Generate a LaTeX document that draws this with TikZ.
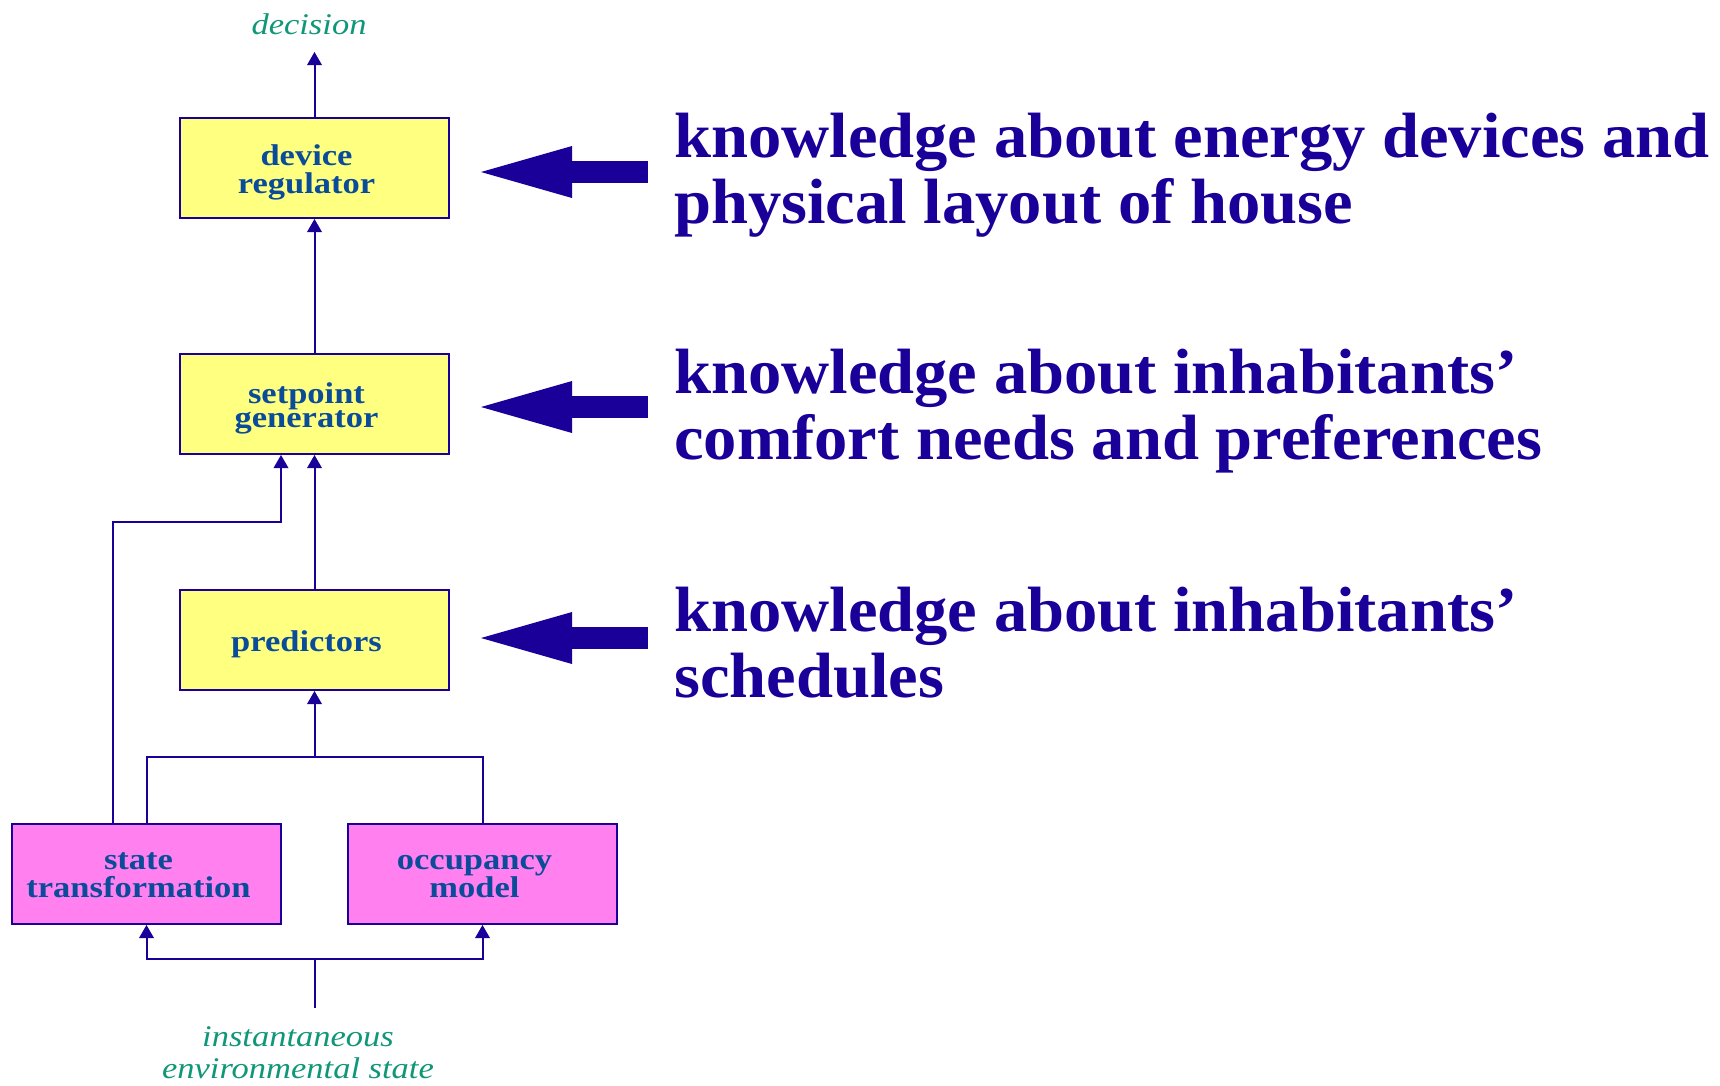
\documentclass[tikz,border=0pt]{standalone}
\usepackage{fontspec}
\setmainfont{Liberation Serif}
\newfontfamily\widefont[FakeStretch=1.15]{Liberation Serif}
\newfontfamily\knowfont[FakeStretch=1.04]{Liberation Serif}
\usetikzlibrary{arrows.meta}
\definecolor{ink}{RGB}{26,0,153}
\definecolor{boxtext}{RGB}{10,76,153}
\definecolor{note}{RGB}{16,150,120}
\definecolor{pale}{RGB}{255,255,128}
\definecolor{rose}{RGB}{255,128,238}
\newcommand\boxlines[1]{\hspace*{-16pt}\raisebox{-4.5pt}[\height][\depth]{\begin{tabular}{@{}c@{}}#1\end{tabular}}}
\tikzset{
  blk/.style={draw=ink, line width=2pt, minimum width=269pt, minimum height=100pt,
    inner sep=0pt, text=boxtext, font=\widefont\bfseries\fontsize{30}{24}\selectfont},
  ctrl/.style={blk, fill=pale},
  model/.style={blk, fill=rose},
  flow/.style={ink, line width=2pt},
  lbl/.style={text=note, align=center, font=\widefont\itshape\fontsize{30}{32}\selectfont, inner sep=0pt},
  know/.style={text=ink, align=left, anchor=west, inner sep=0pt, font=\knowfont\bfseries\fontsize{64}{66}\selectfont},
  bigarrow/.style={ink, line width=22pt, -{Triangle[width=52pt,length=91pt,line width=0pt]}}
}

\begin{document}
\begin{tikzpicture}[x=1pt,y=-1pt,line cap=butt,line join=miter,
    >={Triangle[width=15pt,length=13pt,line width=0pt]}]
    \useasboundingbox (0,0) rectangle (1720,1085);

    % boxes
    \node[ctrl]  (reg)  at (314.5,168) {\boxlines{device\\regulator}};
    \node[ctrl]  (setp) at (314.5,404) {\boxlines{setpoint\\generator}};
    \node[ctrl]  (pred) at (314.5,640) {\boxlines{predictors}};
    \node[model] (stat) at (146.5,874) {\boxlines{state\\transformation}};
    \node[model] (occ)  at (482.5,874) {\boxlines{occupancy\\model}};

    % labels
    \node[lbl] (dec)  at (309,24) {decision};
    \node[lbl] (inst) at (298,1053) {instantaneous\\environmental state};
    \coordinate (out) at (314.5,52);
    \coordinate (src) at (314.5,1008);
    \coordinate (j2)  at (314.5,959);
    \coordinate (j1)  at (314.5,757);
    \coordinate (bend) at (281,522);

    % connectors
    \draw[flow,->] (reg.north) -- (out);
    \draw[flow,->] (setp.north) -- (reg.south);
    \draw[flow,->] (pred.north) -- (setp.south);
    \draw[flow,->] (stat.north -| 113,0) |- (bend) -- (bend |- setp.south);
    \draw[flow,->] (stat.north) |- (j1) -- (pred.south);
    \draw[flow] (occ.north) |- (j1);
    \draw[flow,->] (src) -- (j2) -| (stat.south);
    \draw[flow,->] (j2) -| (occ.south);

    % knowledge
    \node[know] (k1) at (674,175) {knowledge about energy devices and\\physical layout of house};
    \node[know] (k2) at (674,411) {knowledge about inhabitants’\\comfort needs and preferences};
    \node[know] (k3) at (674,643) {knowledge about inhabitants’\\schedules};
    \draw[bigarrow] (648,172) -- (481,172);
    \draw[bigarrow] (648,407) -- (481,407);
    \draw[bigarrow] (648,638) -- (481,638);
\end{tikzpicture}
\end{document}
